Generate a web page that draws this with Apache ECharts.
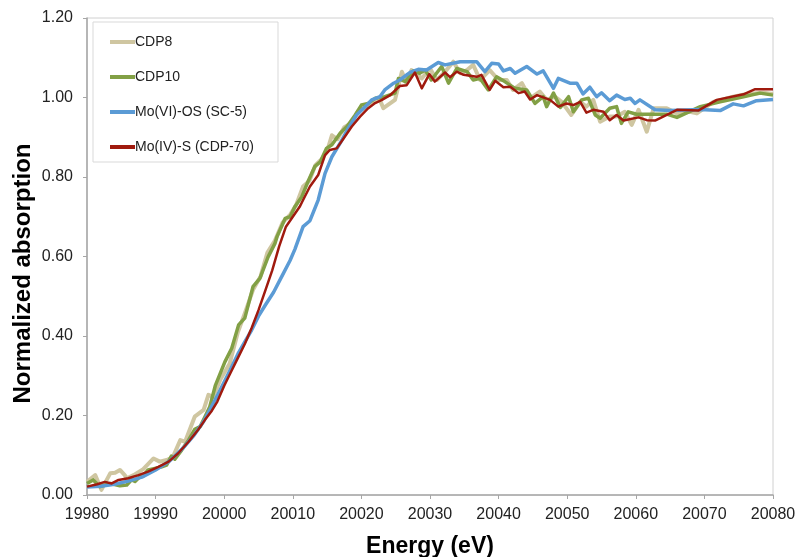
<!DOCTYPE html>
<html>
<head>
<meta charset="utf-8">
<script src="https://cdn.jsdelivr.net/npm/echarts@6/dist/echarts.min.js"></script>
<style>html,body{margin:0;padding:0;background:#fff}#c{width:795px;height:557px}</style>
</head>
<body>
<div id="c"></div>
<script>
var seriesNames = ['CDP8', 'CDP10', 'Mo(VI)-OS (SC-5)', 'Mo(IV)-S (CDP-70)'];
var xTicks = [19980, 19990, 20000, 20010, 20020, 20030, 20040, 20050, 20060, 20070, 20080];
var yTicks = [0, 0.2, 0.4, 0.6, 0.8, 1.0, 1.2];

var cdp8 = [[19980,0.033],[19981.2,0.050],[19982.1,0.013],[19983.4,0.055],[19984.1,0.056],[19984.8,0.063],[19985.5,0.050],[19985.8,0.042],[19986.8,0.050],[19988.2,0.065],[19989.7,0.092],[19990.6,0.084],[19991.6,0.088],[19992.5,0.095],[19993.6,0.138],[19994.3,0.134],[19995.7,0.197],[19997,0.214],[19997.7,0.252],[19998.4,0.247],[19999.4,0.289],[20000.8,0.331],[20002,0.41],[20003,0.457],[20004.2,0.516],[20005.3,0.55],[20006.3,0.61],[20007.4,0.64],[20008.5,0.685],[20009.6,0.705],[20010.5,0.73],[20011.5,0.776],[20012.4,0.79],[20013.3,0.83],[20014.2,0.845],[20015,0.865],[20015.7,0.905],[20016.5,0.895],[20017.5,0.925],[20018.5,0.935],[20019.5,0.965],[20020.5,0.975],[20021.5,0.99],[20022.7,0.994],[20023.2,0.973],[20024.9,0.994],[20025.9,1.065],[20026.6,1.036],[20027.3,1.069],[20028.8,1.048],[20030,1.073],[20031,1.044],[20032.2,1.065],[20033.4,1.090],[20034.4,1.061],[20035.4,1.069],[20036.3,1.082],[20037.3,1.044],[20038.7,1.069],[20040,1.044],[20041.2,1.044],[20042.1,1.019],[20043.4,1.036],[20044.6,0.998],[20046,1.015],[20047,0.994],[20048.2,1.002],[20049.2,0.989],[20050.6,0.956],[20051.9,0.989],[20052.8,0.977],[20053.8,0.994],[20054.8,0.939],[20056.2,0.952],[20057.2,0.952],[20058.4,0.964],[20059.4,0.931],[20060.4,0.969],[20061.6,0.914],[20062.6,0.973],[20064.5,0.973],[20066,0.960],[20067.9,0.964],[20068.9,0.960],[20071.3,0.989],[20074.2,1.002],[20076.2,1.009],[20078.6,1.012],[20080,1.009]];

var cdp10 = [[19980,0.029],[19980.9,0.038],[19981.9,0.021],[19983.4,0.029],[19984.8,0.023],[19985.8,0.025],[19986.5,0.038],[19987,0.034],[19987.7,0.046],[19988.2,0.048],[19988.9,0.063],[19989.9,0.067],[19990.9,0.071],[19991.6,0.075],[19992.3,0.098],[19992.8,0.090],[19993.8,0.113],[19994.8,0.138],[19995.7,0.165],[19996.5,0.172],[19997.2,0.197],[19997.9,0.222],[19998.7,0.275],[20000.1,0.335],[20001.1,0.369],[20002.1,0.428],[20003,0.445],[20004.2,0.524],[20005.2,0.545],[20006.4,0.599],[20007.4,0.633],[20007.7,0.650],[20008.9,0.696],[20009.6,0.700],[20010.3,0.725],[20011.3,0.750],[20012.3,0.792],[20013.2,0.826],[20014,0.838],[20014.9,0.872],[20015.7,0.881],[20016.9,0.910],[20017.9,0.927],[20019.1,0.956],[20020,0.981],[20021,0.985],[20022,0.998],[20023.4,1.002],[20024.9,1.011],[20025.4,1.048],[20026.4,1.040],[20027.6,1.067],[20028.5,1.061],[20029.3,1.069],[20030.2,1.044],[20031.7,1.078],[20032.7,1.036],[20033.9,1.073],[20035.4,1.065],[20036.3,1.044],[20037.3,1.048],[20038.5,1.019],[20039.7,1.052],[20040.9,1.040],[20042.4,1.023],[20044.1,1.019],[20045.3,0.985],[20046.5,1.002],[20047,0.977],[20048,1.011],[20049,0.975],[20050.2,1.002],[20050.9,0.964],[20052.1,0.994],[20053.1,0.998],[20054.1,0.956],[20054.8,0.948],[20056.2,0.973],[20057.2,0.977],[20057.9,0.935],[20058.9,0.964],[20060.1,0.958],[20064.5,0.958],[20066,0.950],[20069.4,0.977],[20072.3,0.989],[20075.7,1.002],[20078.1,1.011],[20080,1.006]];

var moVI = [[19980,0.02],[19982,0.022],[19984,0.027],[19986,0.035],[19988,0.045],[19990,0.063],[19992,0.085],[19994,0.118],[19995.5,0.148],[19997,0.185],[19998.7,0.24],[20000.6,0.305],[20002,0.355],[20003,0.385],[20004,0.415],[20005,0.45],[20006,0.478],[20007.2,0.51],[20008.4,0.55],[20009.6,0.59],[20010.3,0.618],[20011.5,0.675],[20012.5,0.69],[20013.7,0.742],[20014.7,0.809],[20015.7,0.851],[20016.9,0.885],[20018.1,0.923],[20019.3,0.956],[20020.8,0.981],[20021.5,0.994],[20022.7,1.002],[20023.4,1.019],[20024.7,1.036],[20025.6,1.044],[20027.1,1.063],[20028.3,1.071],[20029.5,1.069],[20031.2,1.088],[20032.2,1.082],[20034.4,1.090],[20036.8,1.090],[20038,1.065],[20039,1.086],[20040,1.084],[20040.7,1.067],[20041.7,1.073],[20042.4,1.061],[20044.1,1.078],[20045.6,1.059],[20046.5,1.067],[20048,1.023],[20048.7,1.048],[20050.4,1.036],[20051.4,1.036],[20052.3,1.009],[20053.3,1.026],[20054.3,1.002],[20055,1.012],[20056.2,0.992],[20057.2,1.006],[20058.4,0.995],[20059.2,0.998],[20059.9,0.985],[20060.6,0.994],[20062.8,0.969],[20065,0.967],[20069.4,0.970],[20072.3,0.967],[20074.2,0.984],[20075.7,0.979],[20077.6,0.992],[20080,0.995]];

var moIV = [[19980,0.021],[19981.5,0.027],[19982.6,0.033],[19983.6,0.029],[19984.6,0.038],[19986,0.042],[19987.5,0.050],[19988.9,0.059],[19990.4,0.071],[19991.9,0.084],[19993.3,0.105],[19994.8,0.134],[19996.2,0.164],[19997.2,0.189],[19998.2,0.212],[19999,0.235],[20000,0.275],[20001,0.31],[20002,0.345],[20003,0.38],[20004,0.42],[20005,0.465],[20006,0.515],[20007,0.565],[20008,0.625],[20009,0.675],[20010,0.70],[20011,0.725],[20011.5,0.742],[20012.5,0.776],[20013.7,0.805],[20014.7,0.855],[20015.4,0.868],[20016.4,0.872],[20017.4,0.897],[20018.6,0.927],[20019.8,0.952],[20021,0.973],[20022,0.986],[20023,0.994],[20024.2,1.006],[20025.6,1.029],[20026.6,1.031],[20027.8,1.063],[20028.8,1.023],[20029.9,1.059],[20030.7,1.040],[20032.2,1.063],[20032.9,1.051],[20033.9,1.065],[20034.9,1.057],[20036.8,1.052],[20037.5,1.057],[20038.7,1.019],[20039.5,1.042],[20040.7,1.026],[20041.7,1.027],[20042.9,1.011],[20043.8,1.015],[20044.6,0.995],[20045.6,1.006],[20047.5,0.994],[20048.7,0.977],[20049.9,0.985],[20050.9,0.981],[20051.9,0.989],[20052.8,0.962],[20053.8,0.969],[20055.3,0.964],[20056.2,0.943],[20057.2,0.956],[20058.2,0.942],[20060.4,0.950],[20061.6,0.943],[20062.8,0.942],[20066,0.969],[20069.1,0.967],[20071.8,0.994],[20075.7,1.008],[20077.4,1.021],[20080,1.021]];

var chart = echarts.init(document.getElementById('c'), null, {renderer: 'canvas'});
var FONT = '"Liberation Sans", Arial, sans-serif';
function mk(name, data, color, w) {
  return {name: name, type: 'line', data: data, showSymbol: false, symbol: 'none',
    lineStyle: {color: color, width: w, join: 'round'}, itemStyle: {color: color},
    animation: false, silent: true};
}
chart.setOption({
  backgroundColor: '#ffffff',
  animation: false,
  grid: {left: 87, right: 22, top: 18, bottom: 62, show: true, borderColor: '#d0d0d0', borderWidth: 1,
    backgroundColor: 'transparent', containLabel: false, outerBoundsMode: 'none'},
  legend: {
    orient: 'vertical', left: 93, top: 22,
    padding: [13, 24, 8, 17], itemGap: 21, itemWidth: 25, itemHeight: 4, icon: 'rect',
    borderColor: '#d9d9d9', borderWidth: 1, backgroundColor: '#fff',
    textStyle: {fontFamily: FONT, fontSize: 14, color: '#222', padding: [0, 0, 0, -5]},
    data: seriesNames
  },
  xAxis: {
    type: 'value', min: 19980, max: 20080, interval: 10,
    name: 'Energy (eV)', nameLocation: 'middle', nameGap: 40,
    nameTextStyle: {fontFamily: FONT, fontSize: 23, fontWeight: 'bold', color: '#000'},
    axisLine: {show: true, lineStyle: {color: '#a6a6a6', width: 1.5}},
    axisTick: {show: true, inside: false, length: 4, lineStyle: {color: '#a6a6a6'}},
    axisLabel: {fontFamily: FONT, fontSize: 16, color: '#222', margin: 12,
      formatter: function (v) { return xTicks.indexOf(v) >= 0 ? String(v) : ''; }},
    splitLine: {show: false}
  },
  yAxis: {
    type: 'value', min: 0, max: 1.2, interval: 0.2,
    name: 'Normalized absorption', nameLocation: 'middle', nameGap: 52, nameMoveOverlap: false,
    nameTextStyle: {fontFamily: FONT, fontSize: 24, fontWeight: 'bold', color: '#000', padding: [0, 34, 0, 0]},
    axisLine: {show: true, lineStyle: {color: '#a6a6a6', width: 1.5}},
    axisTick: {show: true, inside: false, length: 4, lineStyle: {color: '#a6a6a6'}},
    axisLabel: {fontFamily: FONT, fontSize: 16, color: '#222', margin: 14,
      formatter: function (v) { return v.toFixed(2); }},
    splitLine: {show: false}
  },
  series: [
    mk(seriesNames[0], cdp8, '#cfc6a1', 4),
    mk(seriesNames[1], cdp10, '#82a045', 3.5),
    mk(seriesNames[2], moVI, '#5b9bd5', 3.5),
    mk(seriesNames[3], moIV, '#a01a0e', 2.5)
  ]
});
</script>
</body>
</html>
